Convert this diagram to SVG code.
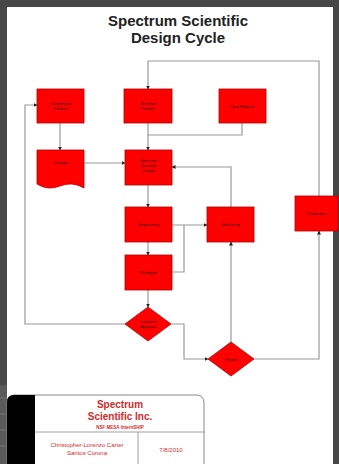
<svg xmlns="http://www.w3.org/2000/svg" width="339" height="464" viewBox="0 0 339 464">
<defs>
<style>
.n{fill:#ff0000;stroke:#b00000;stroke-width:0.8}
.l{fill:#222;font-family:"Liberation Sans",Arial,sans-serif;font-size:4px;text-anchor:middle}
.c{fill:none;stroke:#9a9a9a;stroke-width:1.2}
.t{font-family:"Liberation Sans",Arial,sans-serif;font-weight:bold;text-anchor:middle}
.r{fill:#d42a2a;font-family:"Liberation Sans",Arial,sans-serif;text-anchor:middle}
</style>
<marker id="a" markerWidth="4" markerHeight="4" refX="3.5" refY="2" orient="auto" markerUnits="userSpaceOnUse">
<path d="M0,0 L4,2 L0,4 Z" fill="#222"/>
</marker>
</defs>
<rect x="0" y="0" width="339" height="464" fill="#474747"/>
<rect x="7" y="7" width="326" height="457" fill="#ffffff"/>
<rect x="0" y="385" width="7" height="79" fill="#5a5a5a"/>
<g stroke="#888" stroke-width="0.6"><line x1="0" y1="398" x2="7" y2="398"/><line x1="0" y1="414" x2="7" y2="414"/><line x1="0" y1="430" x2="7" y2="430"/><line x1="0" y1="446" x2="7" y2="446"/></g>
<text class="t" x="178" y="26" font-size="15" fill="#222">Spectrum Scientific</text>
<text class="t" x="178" y="43" font-size="15" fill="#222">Design Cycle</text>
<g id="connectors">
<path class="c" d="M319,196 V61 H148 V89" marker-end="url(#a)"/>
<path class="c" d="M60,123 V150" marker-end="url(#a)"/>
<path class="c" d="M148,123 V150" marker-end="url(#a)"/>
<path class="c" d="M242,123 V135 H148"/>
<path class="c" d="M84,163 H125" marker-end="url(#a)"/>
<path class="c" d="M231,207 V167 H172" marker-end="url(#a)"/>
<path class="c" d="M148,185 V207" marker-end="url(#a)"/>
<path class="c" d="M148,242 V255" marker-end="url(#a)"/>
<path class="c" d="M172,225 H207" marker-end="url(#a)"/>
<path class="c" d="M172,272 H184 V225"/>
<path class="c" d="M148,290 V307" marker-end="url(#a)"/>
<path class="c" d="M126,324 H25 V105 H37" marker-end="url(#a)"/>
<path class="c" d="M171,324 H184 V359 H208" marker-end="url(#a)"/>
<path class="c" d="M231,342 V242" marker-end="url(#a)"/>
<path class="c" d="M254,359 H319 V231" marker-end="url(#a)"/>
</g>
<g id="customized-product"><rect class="n" x="37" y="89" width="47" height="34"/><text class="l" x="60.5" y="105">Customized</text><text class="l" x="60.5" y="110">Product</text></g>
<g id="standard-product"><rect class="n" x="124" y="89" width="48" height="34"/><text class="l" x="148" y="105">Standard</text><text class="l" x="148" y="110">Product</text></g>
<g id="raw-material"><rect class="n" x="219" y="89" width="47" height="34"/><text class="l" x="242.5" y="107.5">Raw Material</text></g>
<g id="design"><path class="n" d="M37,150 H84 V188 Q72,181 60,186 Q48,191 37,184 Z"/><text class="l" x="60.5" y="164">Design</text></g>
<g id="ss-design"><rect class="n" x="125" y="150" width="47" height="35"/><text class="l" x="148.5" y="162">Spectrum</text><text class="l" x="148.5" y="167">Scientific</text><text class="l" x="148.5" y="172">Design</text></g>
<g id="engineering"><rect class="n" x="125" y="207" width="47" height="35"/><text class="l" x="148.5" y="226">Engineering</text></g>
<g id="prototype"><rect class="n" x="125" y="255" width="47" height="35"/><text class="l" x="148.5" y="274">Prototype</text></g>
<g id="machining"><rect class="n" x="207" y="207" width="47" height="35"/><text class="l" x="230.5" y="226">Machining</text></g>
<g id="production"><rect class="n" x="295" y="196" width="43" height="35"/><text class="l" x="316.5" y="215">Production</text></g>
<g id="customer-approval"><path class="n" d="M148,307 L171,324 L148,341 L125,324 Z"/><text class="l" x="148" y="323">Customer</text><text class="l" x="148" y="328">Approval</text></g>
<g id="vendor"><path class="n" d="M231,342 L254,359 L231,376 L208,359 Z"/><text class="l" x="231" y="360.5">Vendor</text></g>
<g id="title-block">
<rect x="7" y="395" width="197" height="75" rx="7" fill="#fff" stroke="#888" stroke-width="1"/>
<path d="M14,395 H35 V464 H7 V402 Q7,395 14,395 Z" fill="#000"/>
<line x1="35" y1="432" x2="204" y2="432" stroke="#888" stroke-width="0.8"/>
<line x1="138" y1="432" x2="138" y2="464" stroke="#888" stroke-width="0.8"/>
<text class="r" x="120" y="408" font-size="10" font-weight="bold">Spectrum</text>
<text class="r" x="120" y="420" font-size="10" font-weight="bold">Scientific Inc.</text>
<text class="r" x="120" y="429" font-size="4.5" font-weight="bold">NSF MESA InternSHIP</text>
<text class="r" x="87" y="447" font-size="6">Christopher-Lorenzo Carter</text>
<text class="r" x="87" y="455" font-size="6">Santos Corona</text>
<text class="r" x="171" y="452" font-size="6">7/8/2010</text>
</g>
</svg>
